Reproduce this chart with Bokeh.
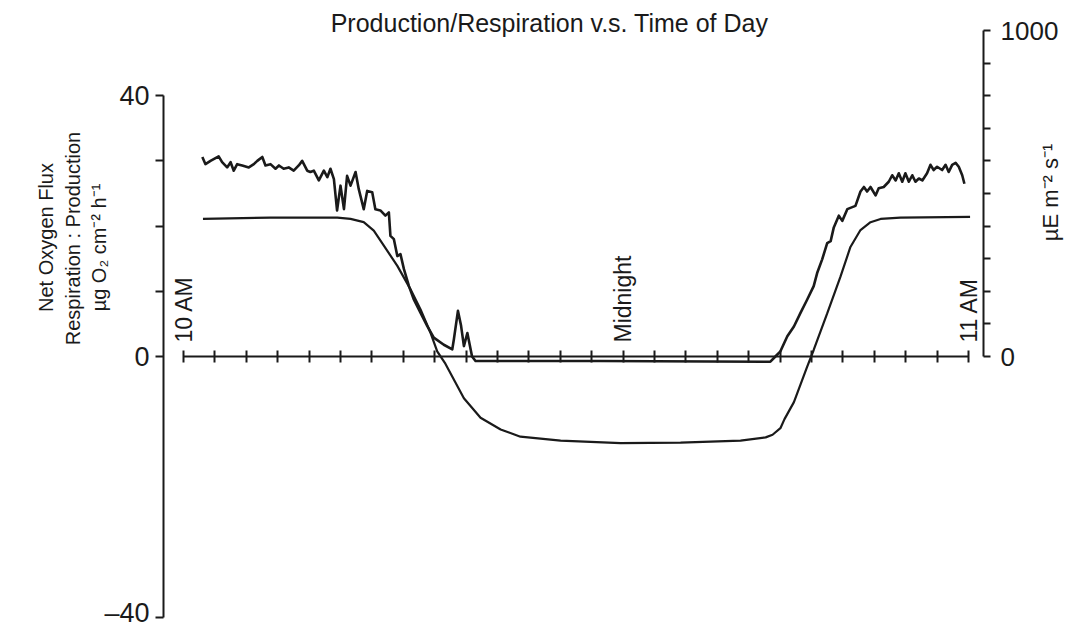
import math
from bokeh.plotting import figure
from bokeh.models import LinearAxis, Range1d, FixedTicker, Label
from bokeh.embed import file_html
from bokeh.resources import INLINE

# ---------------- data ----------------
# hours after 10 AM ; net O2 flux (ug O2 cm-2 h-1)
o2_hours = [0.62, 2.77, 4.90, 5.32, 5.74, 6.06, 6.38, 6.81, 7.23, 7.55, 7.87, 8.08,
            8.34, 8.93, 9.46, 10.10, 10.73, 12.01, 13.92, 15.83, 17.74, 18.54, 18.76,
            19.01, 19.14, 19.44, 19.86, 20.07, 20.50, 20.92, 21.24, 21.56, 21.88,
            22.20, 22.83, 25.05]
o2_flux = [21.1, 21.3, 21.3, 21.1, 20.6, 19.3, 17.0, 13.9, 10.3, 7.2, 3.6, 0.8,
           -1.1, -6.4, -9.4, -11.2, -12.3, -12.9, -13.3, -13.2, -12.9, -12.4, -12.0,
           -11.0, -9.6, -7.0, -1.6, 1.0, 6.6, 12.2, 16.8, 19.4, 20.6,
           21.1, 21.3, 21.4]

# hours after 10 AM ; irradiance (uE m-2 s-1)
light_hours = [0.60, 0.70, 0.86, 1.12, 1.23, 1.39, 1.50, 1.60, 1.71, 1.87, 2.08, 2.24,
               2.35, 2.51, 2.61, 2.77, 2.93, 3.04, 3.19, 3.35, 3.51, 3.67, 3.78, 3.94,
               4.04, 4.15, 4.31, 4.47, 4.58, 4.68, 4.79, 4.89, 5.00, 5.11, 5.21, 5.32,
               5.48, 5.58, 5.74, 5.85, 6.01, 6.11, 6.27, 6.43, 6.54, 6.59, 6.70, 6.81,
               6.91, 7.02, 7.18, 7.33, 7.55, 7.76, 7.97, 8.29, 8.56, 8.61, 8.74, 8.84,
               8.93, 9.04, 9.19, 9.30, 13.28, 18.69, 18.85, 19.01, 19.23, 19.44, 19.65,
               19.86, 20.07, 20.18, 20.34, 20.50, 20.61, 20.71, 20.87, 20.98, 21.14,
               21.24, 21.40, 21.56, 21.67, 21.77, 21.88, 22.04, 22.14, 22.30, 22.46,
               22.57, 22.68, 22.78, 22.89, 22.99, 23.10, 23.21, 23.31, 23.42, 23.53,
               23.68, 23.79, 23.89, 24.00, 24.16, 24.27, 24.37, 24.48, 24.59, 24.69,
               24.80, 24.87]
light = [612, 590, 600, 614, 596, 580, 596, 570, 590, 586, 580, 590,
         600, 612, 586, 590, 576, 586, 576, 580, 570, 586, 600, 570,
         566, 570, 540, 570, 550, 576, 544, 448, 524, 452, 554, 524,
         566, 514, 452, 508, 504, 452, 448, 432, 442, 370, 360, 308,
         314, 268, 216, 176, 134, 94, 58, 36, 22, 52, 140, 94,
         32, 72, 0, -14, -14, -16, 0, 16, 62, 92, 134,
         174, 216, 256, 298, 348, 354, 396, 432, 416, 452,
         456, 462, 506, 520, 506, 520, 494, 516, 520, 536,
         556, 540, 562, 536, 562, 536, 556, 536, 546, 540,
         562, 588, 572, 582, 572, 588, 566, 588, 594, 582,
         556, 530]

x_ticks = list(range(0, 26))
x_tick_labels = {0: "10 AM", 14: "Midnight", 25: "11 AM"}
left_ticks = [-40, 0, 10, 20, 30, 40]
left_tick_labels = {-40: "\u201340", 0: "0", 40: "40"}
right_ticks = [0, 100, 200, 300, 400, 500, 600, 700, 800, 900, 1000]
right_tick_labels = {0: "0", 1000: "1000"}

TITLE = "Production/Respiration v.s. Time of Day"
Y_LABEL_LINES = ["Net Oxygen Flux", "Respiration : Production", "\u00b5g O\u2082 cm\u207b\u00b2 h\u207b\u00b9"]
Y2_LABEL = "\u00b5E m\u207b\u00b2 s\u207b\u00b9"

# ---------------- layout helpers (screen pixels -> data) ----------------
W, H = 1082, 627
PX_PER_H = 31.4
PX_PER_U = 6.52
X0_PAGE, Y0_PAGE = 183.0, 356.0   # screen position of (10 AM, 0)

def hx(px):
    return (px - X0_PAGE) / PX_PER_H

def vy(py):
    return (Y0_PAGE - py) / PX_PER_U

FONT = "Liberation Sans"
INK = "#1a1a1a"

p = figure(width=W, height=H, output_backend="svg", toolbar_location=None,
           x_range=Range1d(hx(0), hx(W)), y_range=Range1d(vy(H), vy(0)),
           x_axis_location=None, y_axis_location=None, min_border=0)
p.extra_y_ranges = {"light": Range1d(vy(H) * 20, vy(0) * 20)}
p.outline_line_color = None
p.background_fill_color = "white"
p.border_fill_color = "white"
p.grid.visible = False

def style_axis(ax, size):
    ax.axis_line_color = INK
    ax.axis_line_width = 2
    ax.major_tick_line_color = INK
    ax.major_tick_line_width = 2
    ax.minor_tick_line_color = None
    ax.major_label_text_font = FONT
    ax.major_label_text_font_size = size
    ax.major_label_text_color = INK

# left axis
ax_l = LinearAxis(fixed_location=hx(163), bounds=(-40, 40),
                  ticker=FixedTicker(ticks=left_ticks, minor_ticks=[]),
                  major_label_overrides={t: left_tick_labels.get(t, "") for t in left_ticks},
                  major_tick_out=8, major_tick_in=0, major_label_standoff=6)
style_axis(ax_l, "27px")
p.add_layout(ax_l, "left")

# right axis
ax_r = LinearAxis(y_range_name="light", fixed_location=hx(983), bounds=(0, 1000),
                  ticker=FixedTicker(ticks=right_ticks, minor_ticks=[]),
                  major_label_overrides={t: right_tick_labels.get(t, "") for t in right_ticks},
                  major_tick_out=7, major_tick_in=0, major_label_standoff=10)
style_axis(ax_r, "26px")
p.add_layout(ax_r, "right")

# time axis through zero
ax_x = LinearAxis(fixed_location=0, bounds=(0, 25),
                  ticker=FixedTicker(ticks=x_ticks, minor_ticks=[]),
                  major_label_overrides={t: x_tick_labels.get(t, "") for t in x_ticks},
                  major_tick_out=6, major_tick_in=6, major_label_standoff=8,
                  major_label_orientation=math.pi / 2)
style_axis(ax_x, "23px")
p.add_layout(ax_x, "above")

# curves
p.line(o2_hours, o2_flux, line_color=INK, line_width=2.2)
p.line(light_hours, light, y_range_name="light", line_color=INK, line_width=2.6,
       line_join="round")

# texts
p.add_layout(Label(x=hx(549), y=vy(22), text=TITLE, text_font=FONT, text_font_size="25px",
                   text_align="center", text_baseline="middle", text_color=INK))
for cx, cy, t in [(45, 237, Y_LABEL_LINES[0]), (72, 238, Y_LABEL_LINES[1]), (98, 247, Y_LABEL_LINES[2])]:
    p.add_layout(Label(x=hx(cx), y=vy(cy), text=t, angle=math.pi / 2, text_font=FONT,
                       text_font_size="20px", text_align="center", text_baseline="middle",
                       text_color=INK))
p.add_layout(Label(x=hx(1050), y=vy(192), text=Y2_LABEL, angle=math.pi / 2, text_font=FONT,
                   text_font_size="22px", text_align="center", text_baseline="middle",
                   text_color=INK))

open("out.html", "w").write(file_html(p, INLINE))
